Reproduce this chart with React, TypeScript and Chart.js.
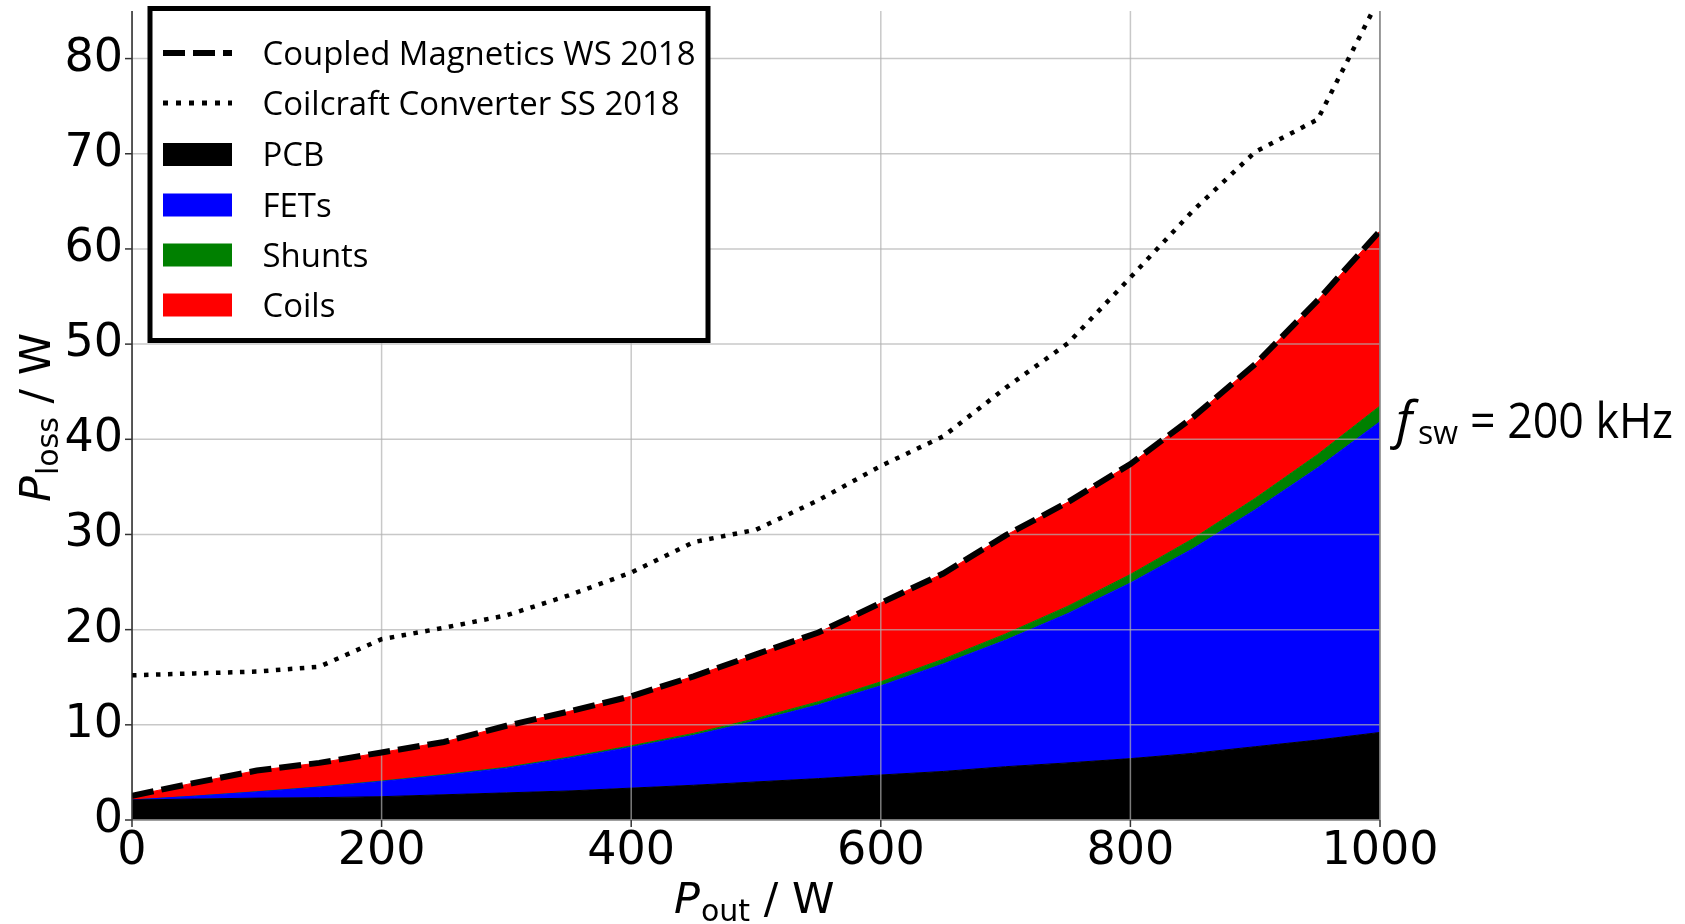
import { useEffect, useRef } from "react";
import { Chart, registerables } from "chart.js";

Chart.register(...registerables);

// ---------- data ----------
const outputPower = [0, 50, 100, 150, 200, 250, 300, 350, 400, 450, 500, 550, 600, 650, 700, 750, 800, 850, 900, 950, 1000];
const pcbLoss = [2.1, 2.2, 2.3, 2.35, 2.45, 2.65, 2.85, 3.05, 3.35, 3.65, 4.0, 4.35, 4.73, 5.1, 5.6, 6.0, 6.45, 7.0, 7.7, 8.4, 9.2];
const fetLoss = [0, 0.3, 0.65, 1.1, 1.6, 2.05, 2.6, 3.45, 4.3, 5.25, 6.4, 7.75, 9.37, 11.3, 13.3, 15.7, 18.45, 21.5, 24.9, 28.6, 32.65];
const shuntLoss = [0, 0.01, 0.02, 0.03, 0.05, 0.07, 0.09, 0.11, 0.15, 0.2, 0.25, 0.33, 0.42, 0.5, 0.65, 0.77, 0.9, 1.05, 1.2, 1.4, 1.65];
const coilLoss = [0.45, 1.39, 2.23, 2.52, 3.0, 3.43, 4.36, 4.79, 5.2, 6.0, 6.75, 7.27, 8.28, 9.0, 10.35, 10.93, 11.6, 12.75, 14.1, 16.2, 18.4];
const coupledMagneticsWS2018 = [2.55, 3.9, 5.2, 6.0, 7.1, 8.2, 9.9, 11.4, 13.0, 15.1, 17.4, 19.7, 22.8, 25.9, 29.9, 33.4, 37.4, 42.3, 47.9, 54.6, 61.9];
const coilcraftSS2018 = [15.2, 15.4, 15.6, 16.1, 19.0, 20.2, 21.5, 23.6, 26.0, 29.2, 30.5, 33.6, 37.2, 40.3, 45.4, 50.1, 57.0, 64.0, 70.2, 73.6, 86.5];

const xTicks = [0, 200, 400, 600, 800, 1000];
const yTicks = [0, 10, 20, 30, 40, 50, 60, 70, 80];

const lineLabels = ["Coupled Magnetics WS 2018", "Coilcraft Converter SS 2018"];
const areaLabels = ["PCB", "FETs", "Shunts", "Coils"];
const areaColors = ["#000000", "#0000ff", "#008000", "#ff0000"];

const TICK_FONT = "DejaVu Sans";
const TEXT_FONT = "Open Sans";

export default function App() {
  const ref = useRef<HTMLCanvasElement | null>(null);

  useEffect(() => {
    const canvas = ref.current;
    if (!canvas) return;
    const toPoints = (vals: number[]) => outputPower.map((x, i) => ({ x, y: vals[i] }));
    const areaSeries = [pcbLoss, fetLoss, shuntLoss, coilLoss];

    let areasDrawn = 0;

    const line = (ctx: CanvasRenderingContext2D, x1: number, y1: number, x2: number, y2: number) => {
      ctx.beginPath();
      ctx.moveTo(x1, y1);
      ctx.lineTo(x2, y2);
      ctx.stroke();
    };

    const overlay = {
      id: "overlay",
      beforeDatasetsDraw() {
        areasDrawn = 0;
      },
      afterDatasetDraw(chart: any, args: any) {
        const ds = chart.data.datasets[args.index];
        if (!ds.fill) return;
        areasDrawn += 1;
        if (areasDrawn !== areaSeries.length) return;
        const { ctx, chartArea: ca, scales } = chart;
        ctx.save();
        ctx.beginPath();
        ctx.rect(ca.left, ca.top, ca.right - ca.left, ca.bottom - ca.top);
        ctx.clip();
        ctx.strokeStyle = "rgba(176,176,176,0.7)";
        ctx.lineWidth = 1.5;
        ctx.setLineDash([]);
        for (const v of xTicks) {
          const x = scales.x.getPixelForValue(v);
          line(ctx, x, ca.top, x, ca.bottom);
        }
        for (const v of yTicks) {
          const y = scales.y.getPixelForValue(v);
          line(ctx, ca.left, y, ca.right, y);
        }
        ctx.restore();
      },
      afterDraw(chart: any) {
        const { ctx, chartArea: ca, scales } = chart;
        ctx.save();
        ctx.setLineDash([]);
        ctx.lineWidth = 1.5;
        // spines
        ctx.strokeStyle = "#7f7f7f";
        line(ctx, ca.right, ca.top, ca.right, ca.bottom);
        line(ctx, ca.left, ca.bottom, ca.right, ca.bottom);
        ctx.strokeStyle = "#262626";
        line(ctx, ca.left, ca.top, ca.left, ca.bottom);
        // tick marks
        ctx.strokeStyle = "#333333";
        for (const v of yTicks) {
          const y = scales.y.getPixelForValue(v);
          line(ctx, ca.left - 7, y, ca.left, y);
        }
        for (const v of xTicks) {
          const x = scales.x.getPixelForValue(v);
          line(ctx, x, ca.bottom, x, ca.bottom + 7);
        }

        // legend
        const lx = 150, ly = 8.5, lw = 558, lh = 332;
        ctx.fillStyle = "#ffffff";
        ctx.fillRect(lx, ly, lw, lh);
        ctx.strokeStyle = "#000000";
        ctx.lineWidth = 5;
        ctx.lineJoin = "miter";
        ctx.strokeRect(lx, ly, lw, lh);
        const rows = [53, 103, 154.5, 205, 255, 305];
        const sx0 = 163, sx1 = 232, tx = 262.5;
        ctx.lineCap = "butt";
        ctx.lineWidth = 6;
        ctx.setLineDash([22, 8]);
        line(ctx, sx0, rows[0], sx1, rows[0]);
        ctx.lineWidth = 5;
        ctx.setLineDash([5, 8]);
        line(ctx, sx0, rows[1], sx1, rows[1]);
        ctx.setLineDash([]);
        areaColors.forEach((c, i) => {
          ctx.fillStyle = c;
          ctx.fillRect(sx0, rows[i + 2] - 11.5, sx1 - sx0, 23);
        });
        ctx.fillStyle = "#000000";
        ctx.font = `32px "${TEXT_FONT}"`;
        ctx.textBaseline = "alphabetic";
        ctx.textAlign = "left";
        const ref0 = ctx.measureText(lineLabels[0]).width;
        const sc = 433 / ref0;
        const allLabels = [...lineLabels, ...areaLabels];
        allLabels.forEach((t, i) => {
          ctx.save();
          ctx.translate(tx, rows[i] + 11.5);
          ctx.scale(sc, 1);
          ctx.fillText(t, 0, 0);
          ctx.restore();
        });

        // axis titles
        const drawTitle = (sub: string) => {
          let x = 0;
          ctx.font = `italic 43px "${TICK_FONT}"`;
          ctx.fillText("P", x, 0);
          x += ctx.measureText("P").width + 1;
          ctx.font = `30px "${TICK_FONT}"`;
          ctx.fillText(sub, x, 8);
          x += ctx.measureText(sub).width;
          ctx.font = `43px "${TICK_FONT}"`;
          ctx.fillText(" / W", x, 0);
        };
        ctx.save();
        ctx.translate(674, 913);
        drawTitle("out");
        ctx.restore();
        ctx.save();
        ctx.translate(50, 502);
        ctx.rotate(-Math.PI / 2);
        drawTitle("loss");
        ctx.restore();

        // annotation
        ctx.font = `italic 52px "${TEXT_FONT}"`;
        ctx.fillText("f", 1396, 438);
        ctx.font = `32px "${TEXT_FONT}"`;
        ctx.fillText("sw", 1418, 444);
        ctx.font = `49px "${TEXT_FONT}"`;
        const rest = "= 200 kHz";
        const rw = ctx.measureText(rest).width;
        ctx.save();
        ctx.translate(1470, 438);
        ctx.scale(203 / rw, 1);
        ctx.fillText(rest, 0, 0);
        ctx.restore();

        ctx.restore();
      },
    };

    const areaDatasets = areaSeries.map((vals, i) => ({
      label: areaLabels[i],
      data: toPoints(vals),
      backgroundColor: areaColors[i],
      borderColor: areaColors[i],
      borderWidth: 1,
      pointRadius: 0,
      tension: 0,
      fill: i === 0 ? "origin" : "-1",
      stack: "losses",
      order: 1,
    }));

    const chart = new Chart(canvas, {
      type: "line",
      data: {
        datasets: [
          ...areaDatasets,
          {
            label: lineLabels[0],
            data: toPoints(coupledMagneticsWS2018),
            borderColor: "#000000",
            borderWidth: 6,
            borderDash: [22, 8],
            borderCapStyle: "butt",
            pointRadius: 0,
            tension: 0,
            fill: false,
            stack: "cm",
            order: 0,
          },
          {
            label: lineLabels[1],
            data: toPoints(coilcraftSS2018),
            borderColor: "#000000",
            borderWidth: 4.5,
            borderDash: [4.5, 7.5],
            borderCapStyle: "butt",
            pointRadius: 0,
            tension: 0,
            fill: false,
            stack: "cc",
            order: 0,
          },
        ] as any,
      },
      options: {
        responsive: false,
        devicePixelRatio: 1,
        animation: false,
        layout: { padding: { top: 11, right: 305, left: 0, bottom: 0 } },
        plugins: {
          legend: { display: false },
          tooltip: { enabled: false },
          title: { display: false },
        },
        scales: {
          x: {
            type: "linear",
            min: 0,
            max: 1000,
            grid: { display: false },
            border: { display: false },
            ticks: {
              color: "#000000",
              font: { family: TICK_FONT, size: 46 },
              padding: -4,
              maxRotation: 0,
              autoSkip: false,
              callback: (v: any) => String(v),
            },
            afterBuildTicks: (s: any) => {
              s.ticks = xTicks.map((v) => ({ value: v }));
            },
            afterFit: (s: any) => {
              s.height = 104;
              s.paddingLeft = 0;
              s.paddingRight = 0;
              s.paddingTop = 0;
              s.paddingBottom = 0;
            },
          },
          y: {
            type: "linear",
            stacked: true,
            min: 0,
            max: 85,
            grid: { display: false },
            border: { display: false },
            ticks: {
              color: "#000000",
              font: { family: TICK_FONT, size: 46 },
              padding: 1,
              autoSkip: false,
              callback: (v: any) => String(v),
            },
            afterBuildTicks: (s: any) => {
              s.ticks = yTicks.map((v) => ({ value: v }));
            },
            afterFit: (s: any) => {
              s.width = 132;
              s.paddingLeft = 0;
              s.paddingRight = 0;
              s.paddingTop = 0;
              s.paddingBottom = 0;
            },
          },
        },
      } as any,
      plugins: [overlay as any],
    });

    return () => chart.destroy();
  }, []);

  return (
    <div style={{ position: "absolute", left: 0, top: 0, width: 1685, height: 924, background: "#ffffff" }}>
      <canvas ref={ref} width={1685} height={924} style={{ display: "block", width: 1685, height: 924 }} />
    </div>
  );
}
